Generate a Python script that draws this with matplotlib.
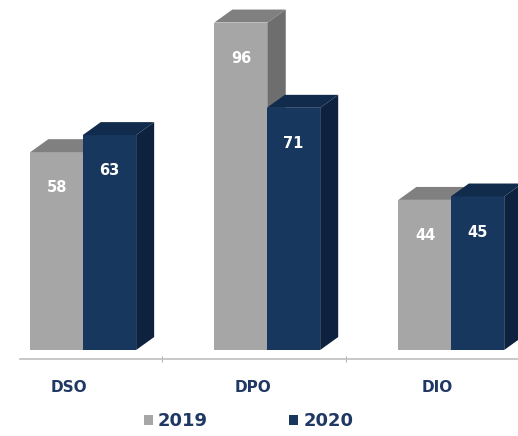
import numpy as np
import matplotlib.pyplot as plt
from matplotlib.patches import Polygon

categories = ['DSO', 'DPO', 'DIO']
years = ['2019', '2020']
vals_2019 = [58, 96, 44]
vals_2020 = [63, 71, 45]

# front / top / side shades
colors = {'2019': ('#A6A6A6', '#808080', '#6E6E6E'),
          '2020': ('#17375E', '#112B4C', '#0E2240')}

width = 0.29
dx, dy = 0.098, 3.8   # fake 3D depth (data units)

fig = plt.figure(figsize=(5.18, 4.36), dpi=100)
ax = fig.add_axes([20/518, (436-359)/436, 498/518, 359/436])

x = np.arange(len(categories))
offsets = [-0.21 + width/2, 0.075 + width/2]

for j, (yr, vals) in enumerate(zip(years, [vals_2019, vals_2020])):
    front, top, side = colors[yr]
    xs = x + offsets[j]
    ax.bar(xs, vals, width=width, color=front, label=yr, zorder=2*j+2)
    for xc, v in zip(xs, vals):
        x0, x1 = xc - width/2, xc + width/2
        ax.add_patch(Polygon([(x0, v), (x0+dx, v+dy), (x1+dx, v+dy), (x1, v)],
                             closed=True, facecolor=top, edgecolor='none', zorder=2*j+2))
        ax.add_patch(Polygon([(x1, 0), (x1+dx, dy), (x1+dx, v+dy), (x1, v)],
                             closed=True, facecolor=side, edgecolor='none', zorder=2*j+2))
        ax.text(xc, v - 10.5, str(v), color='white', fontsize=10.5, fontweight='bold',
                ha='center', va='center', zorder=10)

ax.set_xlim(-0.266, 2.44)
ax.set_ylim(-2.64, 102.6)
for s in ['top', 'right', 'left']:
    ax.spines[s].set_visible(False)
ax.spines['bottom'].set_color('#BFBFBF')
ax.spines['bottom'].set_linewidth(1.2)
ax.set_yticks([])
ax.set_xticks(x)
ax.set_xticklabels(categories, fontsize=11, fontweight='bold', color='#1F3864')
ax.tick_params(axis='x', which='major', length=0, pad=15)
ax.set_xticks([0.505, 1.505], minor=True)
ax.tick_params(axis='x', which='minor', length=4.5, direction='inout', color='#A0A0A0')

fig.legend(loc='center', bbox_to_anchor=(0.48, 0.034), ncol=2, frameon=False,
           prop={'weight': 'bold', 'size': 13}, handlelength=0.5, handleheight=0.5,
           handletextpad=0.3, columnspacing=4.5, labelcolor='#1F3864',
           borderpad=0.1)

fig.savefig('out.png', dpi=100)
